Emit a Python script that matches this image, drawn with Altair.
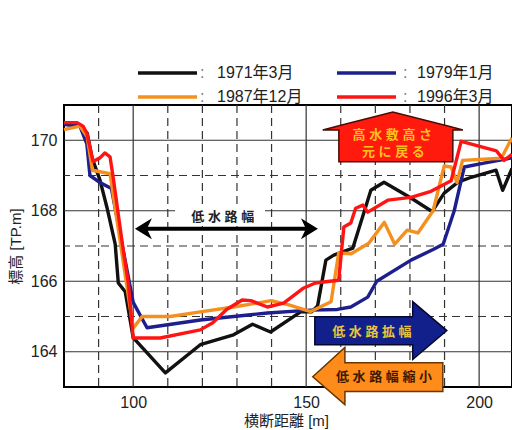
import altair as alt
import pandas as pd

FONT = "Liberation Sans, Noto Sans CJK JP"

# Cross-section survey lines: distance across the channel [m] vs ground elevation [TP.m]
series_names = ["1971年3月", "1979年1月", "1987年12月", "1996年3月"]
series_colors = ["#111111", "#1c1f8c", "#f5901e", "#ff1414"]

x_1971 = [80, 84.6, 86.7, 88.1, 90.4, 92.4, 94.8, 95.7, 97.7, 100, 109.3, 119.4, 129, 134.5, 139.7,
          148.4, 151.5, 153.3, 155.7, 158, 163.5, 168.7, 172.5, 180.3, 186.4, 189.9, 193.9, 197.7,
          204.9, 206.8, 209.5]
y_1971 = [170.45, 170.42, 170.2, 169.5, 168.87, 168.1, 167.05, 165.95, 165.7, 164.4, 163.4, 164.2,
          164.48, 164.78, 164.56, 165.13, 165.13, 165.3, 166.6, 166.74, 166.94, 168.58, 168.81,
          168.36, 167.98, 168.5, 168.81, 168.95, 169.15, 168.58, 169.2]

x_1979 = [80, 84.6, 86.6, 87.5, 90.4, 93.7, 100, 104, 119.4, 133.9, 138.8, 151.3, 159, 162.9,
          167.8, 170.4, 180.3, 186.7, 189.6, 192.8, 195.7, 201.4, 209.5]
y_1979 = [170.45, 170.4, 169.9, 169.0, 168.8, 168.63, 165.4, 164.68, 164.9, 165.05, 165.1, 165.18,
          165.2, 165.27, 165.55, 166.0, 166.6, 166.9, 167.05, 168.0, 169.24, 169.35, 169.5]

x_1987 = [80, 84.6, 86.7, 88.2, 93.3, 100, 102.6, 110.7, 119.4, 129, 134, 139.9, 145, 151.3, 157.2,
          159.4, 163, 168.1, 172.6, 175.6, 179.2, 182.3, 186.7, 189.9, 191.9, 193.6, 195.2, 206.4,
          209.5]
y_1987 = [170.3, 170.4, 170.1, 169.15, 169.05, 164.67, 165.0, 165.0, 165.13, 165.27, 165.35, 165.45,
          165.33, 165.14, 165.42, 166.8, 166.78, 167.08, 167.67, 167.05, 167.45, 167.37, 168.0,
          169.27, 169.24, 168.8, 169.43, 169.49, 170.07]

x_1996 = [80, 83.8, 85.5, 86.6, 88.4, 90.4, 91.8, 93.3, 94.2, 97.1, 98.6, 100, 107.8, 119.4, 123,
          127, 131.5, 134, 138.8, 143.5, 149.3, 152.7, 155, 159.4, 160.9, 162.9, 164.3, 166.4, 167.8,
          173.6, 180.3, 186.1, 191.9, 194.8, 205, 207.2, 209.5]
y_1996 = [170.5, 170.5, 170.4, 170.2, 169.4, 169.5, 169.64, 169.53, 168.96, 166.9, 165.95, 164.39,
          164.39, 164.62, 164.82, 165.2, 165.47, 165.45, 165.27, 165.38, 165.81, 165.95, 165.98,
          166.03, 167.54, 167.65, 168.07, 168.16, 167.96, 168.3, 168.38, 168.55, 168.85, 169.97,
          169.7, 169.43, 169.6]

series_x = [x_1971, x_1979, x_1987, x_1996]
series_y = [y_1971, y_1979, y_1987, y_1996]

# Grid values
grid_x_solid = [100, 150, 200]
grid_x_dashed = [90, 110, 120, 130, 140, 160, 170, 180, 190]
grid_y_solid = [164, 166, 168, 170]
grid_y_dashed = [165, 167, 169]
x_ticks = [100, 150, 200]
y_ticks = [164, 166, 168, 170]

W, H = 448, 282

xscale = alt.Scale(domain=[80, 209.5], nice=False, zero=False)
yscale = alt.Scale(domain=[163, 171], nice=False, zero=False)
xaxis = alt.Axis(values=x_ticks, title="横断距離 [m]", grid=False, ticks=False, domain=False,
                 labelFont=FONT, labelFontSize=16, labelColor="#222222", labelPadding=7,
                 titleFont=FONT, titleFontSize=15, titleFontWeight="normal", titleColor="#222222",
                 titleX=222, titleY=33, titleBaseline="middle", titleAlign="center")
yaxis = alt.Axis(values=y_ticks, title="標高 [TP.m]", grid=False, ticks=False, domain=False,
                 labelFont=FONT, labelFontSize=16, labelColor="#222222", labelPadding=7,
                 titleFont=FONT, titleFontSize=15, titleFontWeight="normal", titleColor="#222222",
                 titleX=-49, titleY=141, titleBaseline="middle", titleAlign="center")


def X(field="x"):
    return alt.X(f"{field}:Q", scale=xscale, axis=xaxis)


def Y(field="y"):
    return alt.Y(f"{field}:Q", scale=yscale, axis=yaxis)


layers = []

# grid
layers.append(alt.Chart(pd.DataFrame({"x": grid_x_solid})).mark_rule(color="#333333", strokeWidth=1.2)
              .encode(x=X()))
layers.append(alt.Chart(pd.DataFrame({"x": grid_x_dashed})).mark_rule(color="#333333", strokeWidth=1.2,
                                                                      strokeDash=[8, 5])
              .encode(x=X()))
layers.append(alt.Chart(pd.DataFrame({"y": grid_y_solid})).mark_rule(color="#333333", strokeWidth=1.2)
              .encode(y=Y()))
layers.append(alt.Chart(pd.DataFrame({"y": grid_y_dashed})).mark_rule(color="#333333", strokeWidth=1.2,
                                                                      strokeDash=[8, 5])
              .encode(y=Y()))

# "低水路幅" double-headed arrow with label on a white patch
layers.append(alt.Chart(pd.DataFrame({"x": [103.3], "x2": [150.6], "y": [167.49]}))
              .mark_rule(color="#000000", strokeWidth=4)
              .encode(x=X(), x2="x2:Q", y=Y()))
layers.append(alt.Chart(pd.DataFrame({"x": [100.5], "y": [167.49]}))
              .mark_point(shape="M 0 0 L 1.7 -1.05 L 1.2 0 L 1.7 1.05 Z", size=400, filled=True,
                          color="#000000", opacity=1)
              .encode(x=X(), y=Y()))
layers.append(alt.Chart(pd.DataFrame({"x": [153.4], "y": [167.49]}))
              .mark_point(shape="M 0 0 L -1.7 -1.05 L -1.2 0 L -1.7 1.05 Z", size=400, filled=True,
                          color="#000000", opacity=1)
              .encode(x=X(), y=Y()))
layers.append(alt.Chart(pd.DataFrame({"x": [112.1], "x2": [138.1], "y": [168.08], "y2": [167.57]}))
              .mark_rect(color="white")
              .encode(x=X(), x2="x2:Q", y=Y(), y2="y2:Q"))
layers.append(alt.Chart(pd.DataFrame({"x": [125.9], "y": [167.82], "t": ["低 水 路 幅"]}))
              .mark_text(font=FONT, fontSize=13, fontWeight="bold", color="#222222")
              .encode(x=X(), y=Y(), text="t:N"))

# survey profiles
for name, color, xs, ys in zip(series_names, series_colors, series_x, series_y):
    df = pd.DataFrame({"x": xs, "y": ys, "series": name})
    layers.append(alt.Chart(df).mark_line(color=color, strokeWidth=3.4, strokeJoin="round")
                  .encode(x=X(), y=Y()))

# block arrows, each outlined as an area between an upper and a lower edge
house = pd.DataFrame({
    "x": [154.8, 159.44, 159.46, 175.05, 192.39, 192.41, 195.3],
    "y": [170.29, 170.41, 170.41, 170.80, 170.37, 170.37, 170.29],
    "y2": [170.29, 170.29, 169.39, 169.39, 169.39, 170.29, 170.29],
})
right_arrow = pd.DataFrame({
    "x": [152.5, 180.79, 180.81, 190.65],
    "y": [164.99, 164.99, 165.42, 164.6],
    "y2": [164.20, 164.20, 163.78, 164.6],
})
left_arrow = pd.DataFrame({
    "x": [151.9, 161.19, 161.21, 189.5],
    "y": [163.29, 164.12, 163.69, 163.69],
    "y2": [163.29, 162.50, 162.87, 162.87],
})
for df, fill, stroke in [(house, "#ff1a0d", "#4a0a05"),
                         (right_arrow, "#12208c", "#05072e"),
                         (left_arrow, "#ff8c1a", "#6a3500")]:
    layers.append(alt.Chart(df).mark_area(orient="vertical", fill=fill, stroke=stroke,
                                          strokeWidth=1.5, opacity=1)
                  .encode(x=X(), y=Y(), y2="y2:Q"))

labels = pd.DataFrame({
    "x": [174.9, 175.2, 169.0, 172.5],
    "y": [170.15, 169.67, 164.57, 163.27],
    "t": ["高 水 敷 高 さ", "元 に 戻 る", "低 水 路 拡 幅", "低 水 路 幅 縮 小"],
    "c": ["#ffc21a", "#ffc21a", "#e8c53a", "#3a1a00"],
})
layers.append(alt.Chart(labels).mark_text(font=FONT, fontSize=13, fontWeight="bold")
              .encode(x=X(), y=Y(), text="t:N", color=alt.Color("c:N", scale=None)))

# legend above the plot
legend_pos = [(74, 136, 153, -32), (273, 339, 353, -32), (74, 136, 153, -8), (273, 339, 353, -8)]
for k, (x0, xc, xt, yy) in enumerate(legend_pos):
    one = pd.DataFrame({"t": [series_names[k]]})
    layers.append(alt.Chart(one).mark_rule(color=series_colors[k], strokeWidth=3.5)
                  .encode(x=alt.value(x0), x2=alt.value(x0 + 59), y=alt.value(yy)))
    layers.append(alt.Chart(one).mark_text(text=":", font=FONT, fontSize=16, color="#777777",
                                           align="left", baseline="middle")
                  .encode(x=alt.value(xc), y=alt.value(yy)))
    layers.append(alt.Chart(one).mark_text(font=FONT, fontSize=16, color="#222222",
                                           align="left", baseline="middle")
                  .encode(x=alt.value(xt), y=alt.value(yy), text="t:N"))

chart = (
    alt.layer(*layers)
    .properties(width=W, height=H,
                padding={"left": 64, "top": 105, "right": 0, "bottom": 43},
                autosize=alt.AutoSizeParams(type="none"),
                background="white")
    .configure_view(stroke="#000000", strokeWidth=2)
)

chart.save("out.html", embed_options={"renderer": "svg", "actions": False})
